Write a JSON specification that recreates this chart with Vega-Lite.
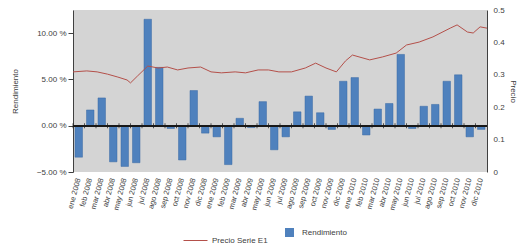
{
  "$schema": "https://vega.github.io/schema/vega-lite/v6.json",
  "width": 414,
  "height": 162,
  "autosize": "none",
  "padding": {"left": 73, "top": 10, "right": 35, "bottom": 79},
  "background": "white",
  "config": {
    "view": {"fill": "#d4d4d4", "stroke": null},
    "font": "Liberation Sans",
    "axis": {"labelColor": "#404040", "titleColor": "#404040", "labelFontSize": 8, "titleFontSize": 8, "titleFontWeight": "normal", "grid": false},
    "legend": {"labelColor": "#404040", "labelFontSize": 8}
  },
  "datasets": {
    "bars": [
      {"m": "ene 2008", "r": -3.4}, {"m": "feb 2008", "r": 1.7}, {"m": "mar 2008", "r": 3.0}, {"m": "abr 2008", "r": -3.9},
      {"m": "may 2008", "r": -4.4}, {"m": "jun 2008", "r": -4.0}, {"m": "jul 2008", "r": 11.5}, {"m": "ago 2008", "r": 6.3},
      {"m": "sep 2008", "r": -0.3}, {"m": "oct 2008", "r": -3.7}, {"m": "nov 2008", "r": 3.8}, {"m": "dic 2008", "r": -0.8},
      {"m": "ene 2009", "r": -1.2}, {"m": "feb 2009", "r": -4.2}, {"m": "mar 2009", "r": 0.8}, {"m": "abr 2009", "r": -0.2},
      {"m": "may 2009", "r": 2.6}, {"m": "jun 2009", "r": -2.6}, {"m": "jul 2009", "r": -1.2}, {"m": "ago 2009", "r": 1.5},
      {"m": "sep 2009", "r": 3.2}, {"m": "oct 2009", "r": 1.4}, {"m": "nov 2009", "r": -0.4}, {"m": "dic 2009", "r": 4.8},
      {"m": "ene 2010", "r": 5.2}, {"m": "feb 2010", "r": -1.0}, {"m": "mar 2010", "r": 1.8}, {"m": "abr 2010", "r": 2.4},
      {"m": "may 2010", "r": 7.7}, {"m": "jun 2010", "r": -0.3}, {"m": "jul 2010", "r": 2.1}, {"m": "ago 2010", "r": 2.3},
      {"m": "sep 2010", "r": 4.8}, {"m": "oct 2010", "r": 5.5}, {"m": "nov 2010", "r": -1.2}, {"m": "dic 2010", "r": -0.4}
    ],
    "price": [
      {"t": 0.0, "p": 0.309}, {"t": 1.2, "p": 0.312}, {"t": 2.1, "p": 0.309}, {"t": 3.0, "p": 0.302},
      {"t": 3.9, "p": 0.293}, {"t": 4.7, "p": 0.284}, {"t": 5.0, "p": 0.275}, {"t": 5.6, "p": 0.296},
      {"t": 6.5, "p": 0.327}, {"t": 7.4, "p": 0.321}, {"t": 8.2, "p": 0.324}, {"t": 9.1, "p": 0.315},
      {"t": 10.0, "p": 0.321}, {"t": 11.1, "p": 0.324}, {"t": 12.0, "p": 0.309}, {"t": 12.9, "p": 0.306},
      {"t": 14.1, "p": 0.309}, {"t": 15.0, "p": 0.306}, {"t": 16.1, "p": 0.315}, {"t": 17.0, "p": 0.315},
      {"t": 17.9, "p": 0.309}, {"t": 19.0, "p": 0.309}, {"t": 20.2, "p": 0.321}, {"t": 21.1, "p": 0.336},
      {"t": 22.0, "p": 0.321}, {"t": 22.9, "p": 0.309}, {"t": 23.7, "p": 0.343}, {"t": 24.3, "p": 0.361},
      {"t": 25.8, "p": 0.346}, {"t": 26.9, "p": 0.355}, {"t": 28.1, "p": 0.367}, {"t": 29.0, "p": 0.392},
      {"t": 30.1, "p": 0.401}, {"t": 31.3, "p": 0.417}, {"t": 32.8, "p": 0.444}, {"t": 33.4, "p": 0.454},
      {"t": 34.3, "p": 0.432}, {"t": 34.8, "p": 0.429}, {"t": 35.4, "p": 0.448}, {"t": 36.0, "p": 0.444}
    ]
  },
  "layer": [
    {
      "data": {"name": "bars"},
      "mark": {"type": "bar", "stroke": "#3a6aa5", "strokeWidth": 0.5},
      "encoding": {
        "x": {"field": "m", "type": "ordinal", "sort": null,
              "scale": {"paddingInner": 0.35, "paddingOuter": 0.175},
              "axis": {"title": null, "labelAngle": -75, "labelFontSize": 7.5, "ticks": false, "domain": false, "labelPadding": 6}},
        "y": {"field": "r", "type": "quantitative",
              "scale": {"domain": [-5, 12.5], "nice": false, "zero": false},
              "axis": {"title": "Rendimiento", "values": [-5, 0, 5, 10], "labelExpr": "format(datum.value, '.2f') + ' %'",
                       "domainColor": "#404040", "tickColor": "#404040", "tickSize": 5, "titlePadding": 17}},
        "fill": {"datum": "Rendimiento", "type": "nominal",
                 "scale": {"domain": ["Rendimiento"], "range": ["#4f81bd"]},
                 "legend": {"title": null, "orient": "none", "legendX": 212, "legendY": 218, "symbolType": "square", "symbolSize": 81, "symbolStrokeWidth": 0, "labelOffset": 8}}
      }
    },
    {
      "data": {"name": "bars"},
      "mark": {"type": "rule", "color": "#1a1a1a", "strokeWidth": 1},
      "encoding": {
        "y": {"datum": 0, "type": "quantitative", "scale": {"domain": [-5, 12.5], "nice": false, "zero": false}, "axis": null}
      }
    },
    {
      "data": {"name": "bars"},
      "mark": {"type": "tick", "orient": "vertical", "color": "#1a1a1a", "size": 5, "thickness": 1, "xOffset": -5.75},
      "encoding": {
        "x": {"field": "m", "type": "ordinal", "sort": null, "scale": {"paddingInner": 0.35, "paddingOuter": 0.175}, "axis": null},
        "y": {"datum": 0, "type": "quantitative", "scale": {"domain": [-5, 12.5], "nice": false, "zero": false}, "axis": null}
      }
    },
    {
      "data": {"name": "price"},
      "mark": {"type": "line", "strokeWidth": 1, "interpolate": "linear"},
      "encoding": {
        "x": {"field": "t", "type": "quantitative", "scale": {"domain": [0, 36], "nice": false, "zero": false}, "axis": null},
        "y": {"field": "p", "type": "quantitative",
              "scale": {"domain": [0, 0.5], "nice": false},
              "axis": {"orient": "right", "title": "Precio", "values": [0, 0.1, 0.2, 0.3, 0.4, 0.5], "format": ".1~f",
                       "ticks": false, "domainColor": "#404040", "labelPadding": 6, "titlePadding": 4}},
        "stroke": {"datum": "Precio Serie E1", "type": "nominal",
                   "scale": {"domain": ["Precio Serie E1"], "range": ["#b4504a"]},
                   "legend": {"title": null, "orient": "none", "legendX": 110, "legendY": 218, "symbolType": "stroke", "symbolSize": 576, "symbolStrokeWidth": 1, "labelOffset": 4}}
      }
    }
  ],
  "resolve": {"scale": {"x": "independent", "y": "independent", "fill": "independent", "stroke": "independent"}}
}
